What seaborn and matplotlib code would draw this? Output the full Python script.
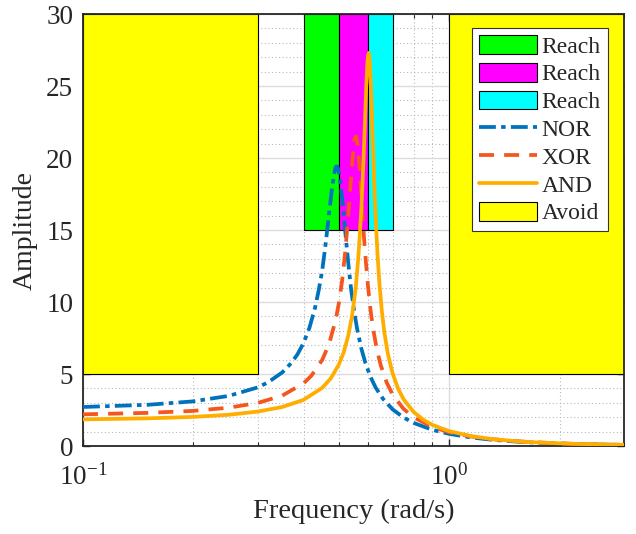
import numpy as np
import pandas as pd
import seaborn as sns
import matplotlib
matplotlib.use("Agg")
import matplotlib.pyplot as plt
from matplotlib.patches import Rectangle, Patch
from matplotlib.lines import Line2D
from matplotlib.ticker import FixedLocator, NullFormatter, MultipleLocator

# ---------------- data ----------------
nor_freq = [0.1, 0.15, 0.2, 0.25, 0.3, 0.32, 0.35, 0.37, 0.385, 0.4, 0.415, 0.43, 0.44,
            0.45, 0.46, 0.47, 0.478, 0.485, 0.49, 0.495, 0.5, 0.505, 0.512, 0.52, 0.53,
            0.54, 0.55, 0.56, 0.575, 0.59, 0.61, 0.63, 0.66, 0.7, 0.75, 0.8, 0.9, 1.0,
            1.15, 1.3, 1.5, 1.7, 2.2, 3.0]
nor_amp = [2.71, 2.86, 3.10, 3.48, 4.07, 4.42, 5.11, 5.75, 6.36, 7.15, 8.19, 9.59, 10.8,
           12.2, 14.1, 16.2, 17.8, 18.9, 19.4, 19.4, 19.0, 18.2, 16.8, 14.9, 12.7,
           10.8, 9.36, 8.17, 6.80, 5.78, 4.78, 4.04, 3.26, 2.55, 1.98, 1.60, 1.12, 0.84,
           0.59, 0.44, 0.318, 0.241, 0.139, 0.073]

xor_freq = [0.1, 0.15, 0.2, 0.25, 0.3, 0.35, 0.4, 0.42, 0.45, 0.47, 0.49, 0.5, 0.51,
            0.52, 0.53, 0.538, 0.545, 0.551, 0.557, 0.563, 0.57, 0.577, 0.585, 0.592,
            0.6, 0.61, 0.62, 0.635, 0.65, 0.675, 0.7, 0.75, 0.8, 0.9, 1.0, 1.15, 1.3,
            1.5, 1.7, 2.2, 3.0]
xor_amp = [2.20, 2.30, 2.44, 2.66, 2.99, 3.50, 4.35, 4.87, 5.98, 7.10, 8.79, 9.97, 11.5,
           13.5, 16.0, 18.2, 20.1, 21.3, 21.5, 20.8, 19.1, 16.9, 14.5, 12.8,
           11.1, 9.38, 8.09, 6.65, 5.61, 4.40, 3.59, 2.58, 1.99, 1.32, 0.955, 0.653, 0.479,
           0.341, 0.256, 0.146, 0.076]

and_freq = [0.1, 0.15, 0.2, 0.25, 0.3, 0.35, 0.4, 0.45, 0.475, 0.5, 0.515, 0.53, 0.543,
            0.555, 0.565, 0.575, 0.582, 0.588, 0.593, 0.597, 0.6, 0.603, 0.606, 0.609,
            0.613, 0.618, 0.624, 0.63, 0.637, 0.645, 0.655, 0.665, 0.68, 0.7, 0.725,
            0.75, 0.8, 0.85, 0.9, 1.0, 1.15, 1.3, 1.5, 1.7, 2.2, 3.0]
and_amp = [1.85, 1.92, 2.02, 2.17, 2.39, 2.71, 3.20, 4.04, 4.70, 5.68, 6.51, 7.67, 9.08,
           10.9, 13.2, 16.3, 19.3, 22.2, 24.8, 26.4, 27.1, 27.3, 26.9, 25.9,
           24.0, 21.4, 18.3, 15.7, 13.3, 11.2, 9.30, 7.89, 6.39, 5.06, 3.98,
           3.25, 2.35, 1.82, 1.46, 1.03, 0.683, 0.493, 0.347, 0.259, 0.146, 0.076]

# regions: (x0, x1, y0, y1)
reach_x0 = [0.4, 0.5, 0.6]
reach_x1 = [0.5, 0.6, 0.7]
reach_y0 = [15, 15, 15]
reach_y1 = [30, 30, 30]
reach_colors = ["#00FF00", "#FF00FF", "#00FFFF"]

avoid_x0 = [0.1, 1.0]
avoid_x1 = [0.3, 3.0]
avoid_y0 = [5, 5]
avoid_y1 = [30, 30]
avoid_color = "#FFFF00"

series_names = ["NOR", "XOR", "AND"]
series_colors = ["#0072BD", "#F4561D", "#FFAE00"]

# ---------------- style ----------------
sns.set_style("ticks")
plt.rcParams["font.family"] = ["Liberation Serif", "DejaVu Serif"]
plt.rcParams["mathtext.fontset"] = "custom"
plt.rcParams["mathtext.rm"] = "Liberation Serif"
plt.rcParams["mathtext.it"] = "Liberation Serif:italic"
plt.rcParams["mathtext.bf"] = "Liberation Serif:bold"

fig = plt.figure(figsize=(6.36, 5.34), dpi=100)
ax = fig.add_axes([83 / 636, 1 - 446 / 534, (624 - 83) / 636, (446 - 14) / 534])
ax.set_axisbelow(True)

frames = []
for name, fr, am in [("NOR", nor_freq, nor_amp), ("XOR", xor_freq, xor_amp), ("AND", and_freq, and_amp)]:
    frames.append(pd.DataFrame({"Frequency": fr, "Amplitude": am, "Gate": name}))
df = pd.concat(frames, ignore_index=True)

# regions
for x0, x1, y0, y1 in zip(avoid_x0, avoid_x1, avoid_y0, avoid_y1):
    ax.add_patch(Rectangle((x0, y0), x1 - x0, y1 - y0, facecolor=avoid_color,
                           edgecolor="black", linewidth=0.8, zorder=1))
for x0, x1, y0, y1, c in zip(reach_x0, reach_x1, reach_y0, reach_y1, reach_colors):
    ax.add_patch(Rectangle((x0, y0), x1 - x0, y1 - y0, facecolor=c,
                           edgecolor="black", linewidth=0.8, zorder=1))

lw = 2.7
dash_map = {"NOR": (4.5, 1.4, 1.2, 1.4), "XOR": (4.0, 2.7), "AND": ""}
sns.lineplot(data=df, x="Frequency", y="Amplitude", hue="Gate", style="Gate",
             hue_order=series_names, style_order=series_names,
             palette=dict(zip(series_names, series_colors)),
             dashes=dash_map, linewidth=lw, sort=False, estimator=None,
             legend=False, ax=ax, zorder=3)

ax.set_xscale("log")
ax.set_xlim(0.1, 3.0)
ax.set_ylim(0, 30)
ax.xaxis.set_major_locator(FixedLocator([0.1, 1.0]))
ax.xaxis.set_minor_locator(FixedLocator([0.2, 0.3, 0.4, 0.5, 0.6, 0.7, 0.8, 0.9, 2.0, 3.0]))
ax.xaxis.set_minor_formatter(NullFormatter())
ax.set_xticklabels([r"$10^{-1}$", r"$10^{0}$"])
ax.yaxis.set_major_locator(MultipleLocator(5))
ax.yaxis.set_minor_locator(MultipleLocator(1))

ax.grid(which="major", color="#dcdcdc", linestyle="-", linewidth=1.0)
ax.grid(which="minor", color="#b8b8b8", linestyle=(0, (1, 2.2)), linewidth=0.8)

edge = "#262626"
for s in ax.spines.values():
    s.set_color(edge)
    s.set_linewidth(1.3)
ax.tick_params(which="both", direction="in", top=True, right=True, colors=edge,
               labelcolor="#262626")
ax.tick_params(which="major", length=5, width=1.0, labelsize=19.5)
ax.tick_params(axis="x", which="major", pad=13)
ax.tick_params(axis="y", which="major", pad=7)
ax.tick_params(axis="x", which="minor", length=3, width=0.8)
ax.tick_params(axis="y", which="minor", length=0)

ax.set_xlabel("Frequency (rad/s)", fontsize=20.5, color="#262626", labelpad=6)
ax.set_ylabel("Amplitude", fontsize=20, color="#262626", labelpad=6)

handles = [Patch(facecolor=c, edgecolor="black", linewidth=0.8) for c in reach_colors]
for name, c in zip(series_names, series_colors):
    d = dash_map[name]
    ls = "-" if d == "" else (0, d)
    handles.append(Line2D([0], [0], color=c, linewidth=lw, linestyle=ls))
handles.append(Patch(facecolor=avoid_color, edgecolor="black", linewidth=0.8))
labels = ["Reach", "Reach", "Reach"] + series_names + ["Avoid"]

leg = ax.legend(handles, labels, loc="upper right",
                bbox_to_anchor=((608 - 83) / 541, (446 - 28) / 432),
                borderaxespad=0, fontsize=17, frameon=True, fancybox=False,
                framealpha=1, edgecolor="#333333", handlelength=2.45,
                handleheight=0.85, labelspacing=0.22, handletextpad=0.2,
                borderpad=0.3)
leg.get_frame().set_linewidth(0.8)
leg.set_zorder(5)

fig.savefig("out.png", dpi=100)
